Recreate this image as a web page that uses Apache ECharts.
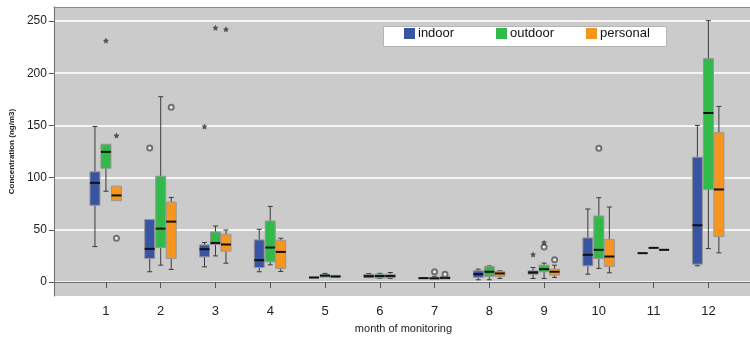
<!DOCTYPE html>
<html>
<head>
<meta charset="utf-8">
<script src="https://cdn.jsdelivr.net/npm/echarts@6/dist/echarts.min.js"></script>
<style>
  html, body { margin: 0; padding: 0; background: #fff; }
  #chart { width: 750px; height: 339px; }
</style>
</head>
<body>
<div id="chart"></div>
<script>
const months = [1, 2, 3, 4, 5, 6, 7, 8, 9, 10, 11, 12];
const yTicks = [0, 50, 100, 150, 200, 250];
const groups = ["indoor", "outdoor", "personal"];

// [min, Q1, median, Q3, max] per month
const indoorBox = [
  [34, 73.5, 95, 105.6, 149],
  [9.9, 22.6, 31.8, 60, 60],
  [14.6, 24.2, 31.5, 35.6, 37.9],
  [9.9, 14, 21, 40.4, 50.6],
  [4.2, 4.2, 4.4, 4.6, 4.6],
  [3.8, 4.2, 5.6, 7.4, 8.2],
  [3.4, 3.4, 3.8, 4, 4],
  [2.2, 4.5, 7.6, 10.8, 12.4],
  [3.5, 7.6, 9.2, 10.8, 14],
  [7.6, 15.6, 26.1, 42.3, 70],
  [27.7, 27.7, 27.7, 27.7, 27.7],
  [15.6, 17.2, 54.4, 119.6, 150],
];
const outdoorBox = [
  [87, 109, 124.7, 132, 132],
  [16.2, 33.1, 51.2, 101.4, 177.5],
  [25.1, 36, 37.5, 48, 53.7],
  [16.5, 19.4, 33.1, 58.5, 72.5],
  [4.5, 4.8, 6.2, 7.2, 8.3],
  [3.5, 4, 5.8, 7.6, 8.4],
  [2.8, 3.2, 3.6, 4.6, 5.6],
  [2.2, 5.4, 9.9, 15, 15.5],
  [3.5, 9.9, 12.4, 16.2, 18.1],
  [13.1, 22.6, 30.9, 63.3, 80.8],
  [32.8, 32.8, 32.8, 32.8, 32.8],
  [32.1, 88.7, 161.9, 214, 250.3],
];
const personalBox = [
  [78, 78, 83, 91.9, 91.9],
  [12.1, 22.6, 57.9, 76.6, 81.1],
  [18.1, 29.6, 36, 45.8, 49.9],
  [10.2, 13.1, 28.9, 40.1, 42],
  [4.4, 4.6, 5.4, 6.4, 6.8],
  [3.4, 4.2, 5.8, 7.4, 9.2],
  [2.6, 3, 4, 5.2, 5.6],
  [3.5, 5.4, 8.3, 10.2, 10.8],
  [4.5, 6.7, 9.9, 12.4, 16.2],
  [8.9, 15, 24.5, 40.7, 71.9],
  [30.9, 30.9, 30.9, 30.9, 30.9],
  [28, 43.6, 88.7, 143.1, 168.2],
];

// outliers (circles) and extremes (stars): [month, value]
const indoorOut = [[2, 128.5]];
const indoorExt = [[3, 149], [9, 26.4]];
const outdoorOut = [[7, 9.9], [9, 33.7], [10, 128.2]];
const outdoorExt = [[1, 231.2], [3, 243.5], [9, 37.9]];
const personalOut = [[1, 42], [2, 167.3], [7, 7.6], [9, 21.3]];
const personalExt = [[1, 140.3], [3, 242]];

const colors = { indoor: "#3a54a4", outdoor: "#31b94a", personal: "#f7951e" };
const offsets = { indoor: -11, outdoor: 0, personal: 10.5 };
const legendLeft = { indoor: 404, outdoor: 496, personal: 586 };
const boxData = { indoor: indoorBox, outdoor: outdoorBox, personal: personalBox };
const outData = { indoor: indoorOut, outdoor: outdoorOut, personal: personalOut };
const extData = { indoor: indoorExt, outdoor: outdoorExt, personal: personalExt };

const STAR =
  "path://M0,-10L2.9,-4L9.5,-3.1L4.7,1.5L5.9,8.1L0,5L-5.9,8.1L-4.7,1.5L-9.5,-3.1L-2.9,-4Z";

function boxRenderer(name) {
  const off = offsets[name];
  const boxW = 10;
  return function (params, api) {
    const m = api.value(0);
    const cx = api.coord([m, 0])[0] + off;
    const y = (i) => api.coord([m, api.value(i)])[1];
    const yMin = y(1), yQ1 = y(2), yMed = y(3), yQ3 = y(4), yMax = y(5);
    const wStyle = { stroke: "#3a3a3a", lineWidth: 1 };
    const children = [];
    if (yQ3 - yMax > 0.5) {
      children.push({ type: "line", shape: { x1: cx, y1: yMax, x2: cx, y2: yQ3 }, style: wStyle });
      children.push({ type: "line", shape: { x1: cx - 2.5, y1: yMax, x2: cx + 2.5, y2: yMax }, style: wStyle });
    }
    if (yMin - yQ1 > 0.5) {
      children.push({ type: "line", shape: { x1: cx, y1: yQ1, x2: cx, y2: yMin }, style: wStyle });
      children.push({ type: "line", shape: { x1: cx - 2.5, y1: yMin, x2: cx + 2.5, y2: yMin }, style: wStyle });
    }
    children.push({
      type: "rect",
      shape: { x: cx - boxW / 2, y: yQ3, width: boxW, height: yQ1 - yQ3 },
      style: { fill: colors[name], stroke: "#979797", lineWidth: 1 },
    });
    children.push({
      type: "line",
      shape: { x1: cx - boxW / 2, y1: yMed, x2: cx + boxW / 2, y2: yMed },
      style: { stroke: "#111", lineWidth: 2 },
    });
    return { type: "group", children };
  };
}

const series = [];
groups.forEach((g) => {
  series.push({
    name: g,
    type: "custom",
    renderItem: boxRenderer(g),
    itemStyle: { color: colors[g] },
    encode: { x: 0, y: [1, 2, 3, 4, 5] },
    data: months.map((m, i) => [m, ...boxData[g][i]]),
    z: 3,
  });
});
groups.forEach((g) => {
  series.push({
    name: g + " outliers",
    type: "scatter",
    symbol: "emptyCircle",
    symbolSize: 5,
    symbolOffset: [offsets[g], 0],
    itemStyle: { color: "#555", borderColor: "#555", borderWidth: 1 },
    data: outData[g],
    z: 4,
  });
  series.push({
    name: g + " extremes",
    type: "scatter",
    symbol: STAR,
    symbolSize: 6,
    symbolOffset: [offsets[g], 0],
    itemStyle: { color: "#333" },
    data: extData[g],
    z: 4,
  });
});

// one legend per item so the three entries sit in fixed columns
const legends = groups.map((g) => ({
  data: [g],
  left: legendLeft[g], top: 27,
  padding: 0,
  itemWidth: 11, itemHeight: 11,
  icon: "rect",
  textStyle: { fontSize: 13, color: "#111", padding: [0, 0, 0, -2] },
  z: 6,
}));

const chart = echarts.init(document.getElementById("chart"), null, { renderer: "canvas" });
chart.setOption({
  animation: false,
  textStyle: { fontFamily: "Liberation Sans, Arial, sans-serif" },
  grid: {
    left: 46, right: 0, top: 7, bottom: 42,
    show: true, backgroundColor: "#cbcbcb", borderWidth: 0,
  },
  graphic: [{
    type: "rect",
    left: 383, top: 26,
    shape: { width: 283, height: 20 },
    style: { fill: "#fff", stroke: "#b5b5b5", lineWidth: 1 },
    z: 5,
  }],
  legend: legends,
  xAxis: [
    {
      type: "value",
      min: 0.05, max: 12.76,
      name: "month of monitoring",
      nameLocation: "middle",
      nameGap: 25,
      nameTextStyle: { fontSize: 11, color: "#222", padding: [0, 0, 0, 3] },
      axisLine: { show: true, lineStyle: { color: "#6e6e6e", width: 1 } },
      axisTick: { show: true, length: 6, customValues: months, lineStyle: { color: "#555" } },
      axisLabel: { customValues: months, fontSize: 13, color: "#222", margin: 9 },
      splitLine: { show: false },
      z: 5,
    },
    {
      type: "value",
      position: "top",
      min: 0.05, max: 12.76,
      axisLine: { show: true, lineStyle: { color: "#8a8a8a", width: 1 } },
      axisTick: { show: false },
      axisLabel: { show: false },
      splitLine: { show: false },
      z: 5,
    },
  ],
  yAxis: {
    type: "value",
    min: -13.4, max: 263.4,
    name: "Concentration (ng/m3)",
    nameLocation: "middle",
    nameGap: 27,
    nameTextStyle: { fontSize: 8, fontWeight: "bold", color: "#222" },
    axisLine: { show: true, lineStyle: { color: "#6e6e6e", width: 1 } },
    axisTick: { show: true, length: 5, customValues: yTicks, lineStyle: { color: "#555" } },
    axisLabel: { customValues: yTicks, fontSize: 12, color: "#222", margin: 7 },
    splitLine: { show: true, lineStyle: { color: "#f4f4f4", width: 2 } },
  },
  series,
});
</script>
</body>
</html>
